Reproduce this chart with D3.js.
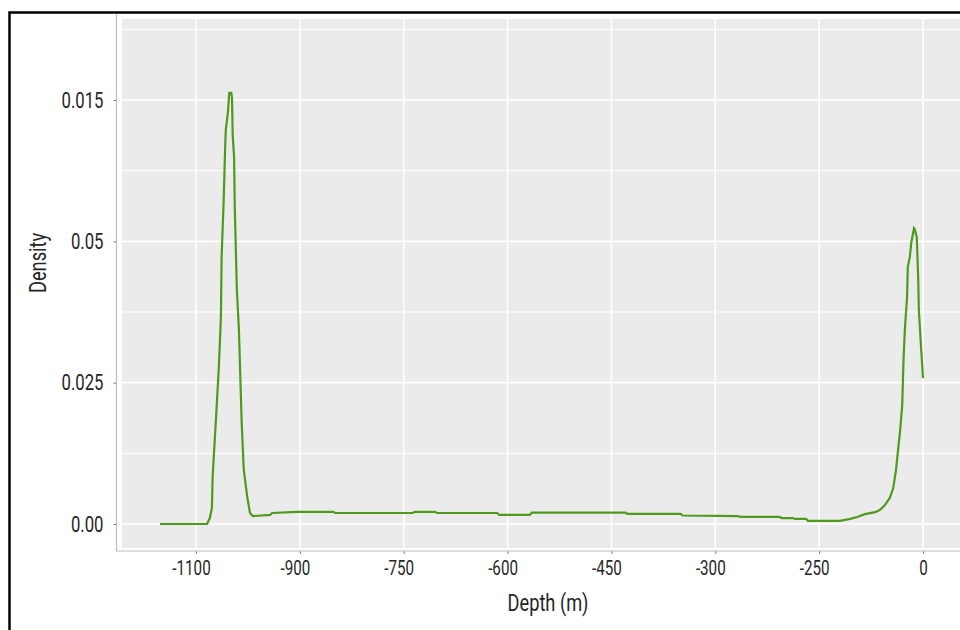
<!DOCTYPE html>
<html>
<head>
<meta charset="utf-8">
<script src="https://cdn.jsdelivr.net/npm/d3@7"></script>
<style>
  body { margin: 0; background: #fff; }
  text { font-family: Roboto, "Liberation Sans", sans-serif; fill: #262626; }
</style>
</head>
<body>
<div id="chart"></div>
<script>
// density curve
var depth = [-1102, -1034, -1030, -1027, -1026, -1021, -1017, -1014, -1013, -1010, -1008, -1007, -1004, -1002,
  -999, -998, -997, -995, -994, -991, -988, -986, -984, -981, -976, -972, -968, -943, -940, -904, -852, -849,
  -737, -734, -705, -702, -615, -612, -568, -565, -430, -427, -350, -347, -267, -264, -207, -204, -188, -185,
  -169, -166, -120, -105, -95, -84, -69, -62, -55, -48, -43, -39, -36, -33, -30, -29, -28, -26, -23, -22,
  -19, -17, -14, -13, -12, -9, -7, -6, -3, 0];
var density = [0, 0, 0.00021, 0.00057, 0.00166, 0.00379, 0.00555, 0.00732, 0.00945, 0.01146, 0.01323, 0.01394, 0.01454, 0.01525,
  0.01525, 0.01507, 0.01376, 0.01298, 0.01121, 0.00828, 0.00686, 0.0052, 0.00357, 0.00191, 0.00096, 0.00039, 0.00028, 0.00032, 0.00039, 0.00043, 0.00043, 0.00039,
  0.00039, 0.00043, 0.00043, 0.00039, 0.00039, 0.00032, 0.00032, 0.0004, 0.0004, 0.00036, 0.00036, 0.0003, 0.00028, 0.00025, 0.00025, 0.00021, 0.00021, 0.00018,
  0.00018, 0.00011, 0.00011, 0.00018, 0.00025, 0.00035, 0.00042, 0.0005, 0.00067, 0.00092, 0.00127, 0.00191, 0.00262, 0.00332, 0.00421, 0.00509, 0.0059, 0.00697, 0.00803, 0.00909,
  0.00945, 0.00994, 0.01033, 0.01047, 0.01044, 0.01015, 0.00874, 0.00757, 0.00633, 0.00516];

// tick values and the labels printed on them
var xTicks = [-1050, -900, -750, -600, -450, -300, -150, 0];
var xLabels = ["-1100", "-900", "-750", "-600", "-450", "-300", "-250", "0"];
var yTicks = [0, 0.005, 0.01, 0.015];
var yLabels = ["0.00", "0.025", "0.05", "0.015"];
var yMinor = [0.0025, 0.0075, 0.0125, 0.0175];

var svgWidth = 960;
var svgHeight = 630;
var squeeze = 0.76; // the original font is a condensed one

var svg = d3.select("#chart")
  .append("svg")
  .attr("width", svgWidth)
  .attr("height", svgHeight);

var xScale = d3.scaleLinear().domain([-1050, 0]).range([196, 923]);
var yScale = d3.scaleLinear().domain([0, 0.015]).range([524, 100]);

// narrow a text horizontally while keeping its anchor point
function condense(sel) {
  sel.each(function() {
    var t = d3.select(this);
    var x = +t.attr("x") || 0;
    t.attr("x", x / squeeze)
      .attr("transform", (t.attr("transform") || "") + ` scale(${squeeze},1)`);
  });
}

// outer frame
svg.append("rect")
  .attr("x", 9.5).attr("y", 12.5)
  .attr("width", 1000).attr("height", 700)
  .attr("fill", "none")
  .attr("stroke", "#000")
  .attr("stroke-width", 2.5);

// panel
svg.append("rect")
  .attr("x", 122).attr("y", 19)
  .attr("width", 850).attr("height", 529)
  .attr("fill", "#ebebeb");

// minor grid
svg.selectAll(".minor")
  .data(yMinor)
  .enter()
  .append("line")
  .attr("x1", 122).attr("x2", 960)
  .attr("y1", d => yScale(d)).attr("y2", d => yScale(d))
  .attr("stroke", "#fff")
  .attr("stroke-width", 1);

// major grid
svg.selectAll(".hmajor")
  .data(yTicks)
  .enter()
  .append("line")
  .attr("x1", 122).attr("x2", 960)
  .attr("y1", d => yScale(d)).attr("y2", d => yScale(d))
  .attr("stroke", "#fff")
  .attr("stroke-width", 1.6);

svg.selectAll(".vmajor")
  .data(xTicks)
  .enter()
  .append("line")
  .attr("x1", d => xScale(d)).attr("x2", d => xScale(d))
  .attr("y1", 19).attr("y2", 548)
  .attr("stroke", "#fff")
  .attr("stroke-width", 1.6);

// axes
var bottomAxis = d3.axisBottom(xScale)
  .tickValues(xTicks)
  .tickFormat((d, i) => xLabels[i])
  .tickSize(3)
  .tickPadding(7);

var leftAxis = d3.axisLeft(yScale)
  .tickValues(yTicks)
  .tickFormat((d, i) => yLabels[i])
  .tickSize(3)
  .tickPadding(10);

var xAxisG = svg.append("g")
  .attr("transform", "translate(0, 551)")
  .call(bottomAxis);

var yAxisG = svg.append("g")
  .attr("transform", "translate(116.5, 0)")
  .call(leftAxis);

xAxisG.select(".domain").remove();
yAxisG.select(".domain").remove();

svg.append("line")
  .attr("x1", 116).attr("x2", 960)
  .attr("y1", 551).attr("y2", 551)
  .attr("stroke", "#bdbdbd").attr("stroke-width", 1.2);

svg.append("line")
  .attr("x1", 116.5).attr("x2", 116.5)
  .attr("y1", 14).attr("y2", 551)
  .attr("stroke", "#bdbdbd").attr("stroke-width", 1.2);

xAxisG.selectAll(".tick line").attr("stroke", "#777");
yAxisG.selectAll(".tick line").attr("stroke", "#777");
// negative labels sit a little left of their tick in the original
xAxisG.selectAll(".tick text")
  .style("font-size", "20px")
  .attr("x", d => d < 0 ? -5 : 0)
  .call(condense);
yAxisG.selectAll(".tick text").style("font-size", "22px").call(condense);

// density line
var line = d3.line()
  .x((d, i) => xScale(depth[i]))
  .y(d => yScale(d));

svg.append("path")
  .datum(density)
  .attr("d", line)
  .attr("fill", "none")
  .attr("stroke", "#4f9a1c")
  .attr("stroke-width", 2.2);

// axis titles
svg.append("text")
  .attr("transform", "translate(548, 611)")
  .attr("text-anchor", "middle")
  .style("font-size", "24px")
  .text("Depth (m)")
  .call(condense);

svg.append("text")
  .attr("transform", "translate(46, 263) rotate(-90)")
  .attr("text-anchor", "middle")
  .style("font-size", "24px")
  .text("Density")
  .call(condense);
</script>
</body>
</html>
